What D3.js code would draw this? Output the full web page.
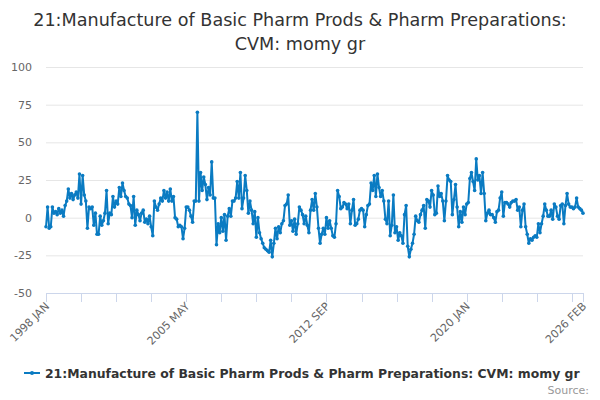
<!DOCTYPE html>
<html>
<head>
<meta charset="utf-8">
<script src="https://cdn.jsdelivr.net/npm/d3@7"></script>
<style>
  body { margin: 0; background: #fff; }
  svg { font-family: "DejaVu Sans", Verdana, sans-serif; }
</style>
</head>
<body>
<div id="chart"></div>
<script>
// monthly growth series, 1998 JAN .. 2026 FEB
var startYear = 1998;
var monthNames = ["JAN","FEB","MAR","APR","MAY","JUN","JUL","AUG","SEP","OCT","NOV","DEC"];
var values = [
  -6, 7, -7, -6, 7, 3, 4, 2, 6, 3, 5, 1,            // 1998
  8, 11, 19, 13, 16, 12, 15, 17, 13, 29, 9, 28,     // 1999
  15, 11, -7, 7, 6, 7, -5, 3, -11, -11, 1, -5,      // 2000
  -2, 3, 18, -4, 3, 2, 14, 7, 11, 9, 20, 14,        // 2001
  23, 18, 14, 13, 9, 8, 0, 14, -5, 5, 2, -2,        // 2002
  3, 5, -3, -1, -4, 1, -6, -12, 11, 7, 5, 9,        // 2003
  13, 11, 18, 13, 17, 11, 19, 11, 14, 0, -1, -6,    // 2004
  -5, -6, -14, -7, 7, 7, 5, 1, -3, 11, 11, 70,      // 2005
  11, 30, 18, 27, 22, 12, 20, 15, 37, 13, 13, -18,  // 2006
  -4, -10, 0, -9, 2, -15, 1, 6, 1, 11, 11, 13,      // 2007
  24, 13, 30, 6, 13, 28, 18, 3, 11, 5, -4, 4,       // 2008
  -13, 0, -10, -14, -17, -20, -21, -22, -23, -15, -26, -17, // 2009
  -7, -14, -6, -10, -4, -2, 8, 9, 15, -5, -2, -9,   // 2010
  -1, -11, -4, 7, 5, 2, -4, 1, -5, -10, 5, 12,      // 2011
  5, 16, 7, -7, -17, -11, -7, -11, 0, -7, -2, -7,   // 2012
  -12, -13, -4, 18, 14, 6, 7, 10, 9, 6, 9, -4,      // 2013
  5, 12, -5, -4, -1, 5, 6, 5, -6, 2, 8, 9,          // 2014
  23, 18, 28, 14, 29, 20, 14, 18, 11, -1, -4, 11,   // 2015
  -12, -5, 15, -10, -6, -15, -10, -12, -17, 2, 8, -19, // 2016
  -26, -21, -17, -11, 1, -2, -3, 2, 5, 8, -7, 12,   // 2017
  11, 7, 18, 15, 2, 3, 21, 14, 16, 11, -2, 11,      // 2018
  28, 25, 24, 2, 12, 22, 7, -6, 4, -3, 7, 2,        // 2019
  9, 10, 26, 30, 24, 18, 39, 25, 28, 16, 30, 16,    // 2020
  -2, 3, 5, 2, 2, 0, -3, 4, 5, 13, 17, 1,           // 2021
  10, 10, 9, 7, 10, 11, 11, 12, 5, 7, -6, 5,        // 2022
  9, -6, -11, -17, -14, -15, -13, -12, -13, -4, -10, -4, // 2023
  1, 9, 5, 1, 1, 5, -1, 9, 7, 1, -1, 8,             // 2024
  9, -4, 8, 16, 9, 7, 7, 6, 7, 13, 7, 6,            // 2025
  5, 3                                              // 2026
];
var yTicks = [-50, -25, 0, 25, 50, 75, 100];
var tickStep = 22;      // x tick every 22 months
var labelStep = 88;     // label every 4th tick
var seriesName = "21:Manufacture of Basic Pharm Prods & Pharm Preparations: CVM: momy gr";
var titleLines = ["21:Manufacture of Basic Pharm Prods & Pharm Preparations:", "CVM: momy gr"];

var categories = values.map(function(d, i) {
  return (startYear + Math.floor(i / 12)) + " " + monthNames[i % 12];
});

var width = 600, height = 400;
var margin = {top: 67, right: 17, bottom: 107, left: 46};
var lineColor = "#0a7bc2";

var svg = d3.select("#chart").append("svg")
  .attr("width", width)
  .attr("height", height);

var xScale = d3.scalePoint()
  .domain(categories)
  .range([margin.left, width - margin.right]);

var yScale = d3.scaleLinear()
  .domain([-50, 100])
  .range([height - margin.bottom, margin.top]);

// title
svg.append("g").selectAll("text")
  .data(titleLines)
  .enter().append("text")
    .attr("x", width / 2)
    .attr("y", function(d, i) { return 26 + i * 24; })
    .attr("text-anchor", "middle")
    .style("font-size", "17.6px")
    .style("fill", "#333333")
    .text(function(d) { return d; });

// grid + y labels
var yAxis = svg.append("g");
yAxis.selectAll("line")
  .data(yTicks.filter(function(d) { return d > -50; }))
  .enter().append("line")
    .attr("x1", margin.left)
    .attr("x2", width - margin.right)
    .attr("y1", function(d) { return yScale(d) + 0.5; })
    .attr("y2", function(d) { return yScale(d) + 0.5; })
    .attr("stroke", "#e6e6e6");
yAxis.selectAll("text")
  .data(yTicks)
  .enter().append("text")
    .attr("x", 32)
    .attr("y", function(d) { return yScale(d) + 4; })
    .attr("text-anchor", "end")
    .style("font-size", "11px")
    .style("fill", "#666666")
    .text(function(d) { return d; });

// x axis
var tickIdx = d3.range(0, values.length, tickStep);
if (tickIdx[tickIdx.length - 1] !== values.length - 1) tickIdx.push(values.length - 1);
var labelIdx = d3.range(0, values.length, labelStep);
labelIdx.push(values.length - 1);

var xAxis = svg.append("g");
xAxis.append("line")
  .attr("x1", margin.left)
  .attr("x2", width - margin.right)
  .attr("y1", yScale(-50) + 0.5)
  .attr("y2", yScale(-50) + 0.5)
  .attr("stroke", "#ccd6eb");
xAxis.selectAll(".tick")
  .data(tickIdx)
  .enter().append("line")
    .attr("class", "tick")
    .attr("x1", function(i) { return Math.round(xScale(categories[i])) + 0.5; })
    .attr("x2", function(i) { return Math.round(xScale(categories[i])) + 0.5; })
    .attr("y1", yScale(-50))
    .attr("y2", yScale(-50) + 9)
    .attr("stroke", "#ccd6eb");
xAxis.selectAll(".xLabel")
  .data(labelIdx)
  .enter().append("text")
    .attr("class", "xLabel")
    .attr("text-anchor", "end")
    .attr("transform", function(i) {
      return "translate(" + (xScale(categories[i]) + 4) + "," + (yScale(-50) + 14) + ")rotate(-45)";
    })
    .style("font-size", "11px")
    .style("fill", "#666666")
    .text(function(i) { return categories[i]; });

// series
var lineGenerator = d3.line()
  .x(function(d, i) { return xScale(categories[i]); })
  .y(function(d) { return yScale(d); });

svg.append("path")
  .attr("d", lineGenerator(values))
  .attr("fill", "none")
  .attr("stroke", lineColor)
  .attr("stroke-width", 2)
  .attr("stroke-linejoin", "round");

svg.append("g").selectAll("circle")
  .data(values)
  .enter().append("circle")
    .attr("cx", function(d, i) { return xScale(categories[i]); })
    .attr("cy", function(d) { return yScale(d); })
    .attr("r", 1.8)
    .attr("fill", lineColor);

// legend
var legend = svg.append("g").attr("transform", "translate(0,373)");
legend.append("line")
  .attr("x1", 24).attr("x2", 40)
  .attr("y1", 0).attr("y2", 0)
  .attr("stroke", lineColor)
  .attr("stroke-width", 2);
legend.append("circle")
  .attr("cx", 32).attr("cy", 0).attr("r", 2)
  .attr("fill", lineColor);
legend.append("text")
  .attr("x", 45)
  .attr("y", 4.5)
  .style("font-size", "12.4px")
  .style("font-weight", "bold")
  .style("fill", "#333333")
  .text(seriesName);

svg.append("text")
  .attr("x", 589)
  .attr("y", 394)
  .attr("text-anchor", "end")
  .style("font-size", "11px")
  .style("fill", "#999999")
  .text("Source:");
</script>
</body>
</html>
